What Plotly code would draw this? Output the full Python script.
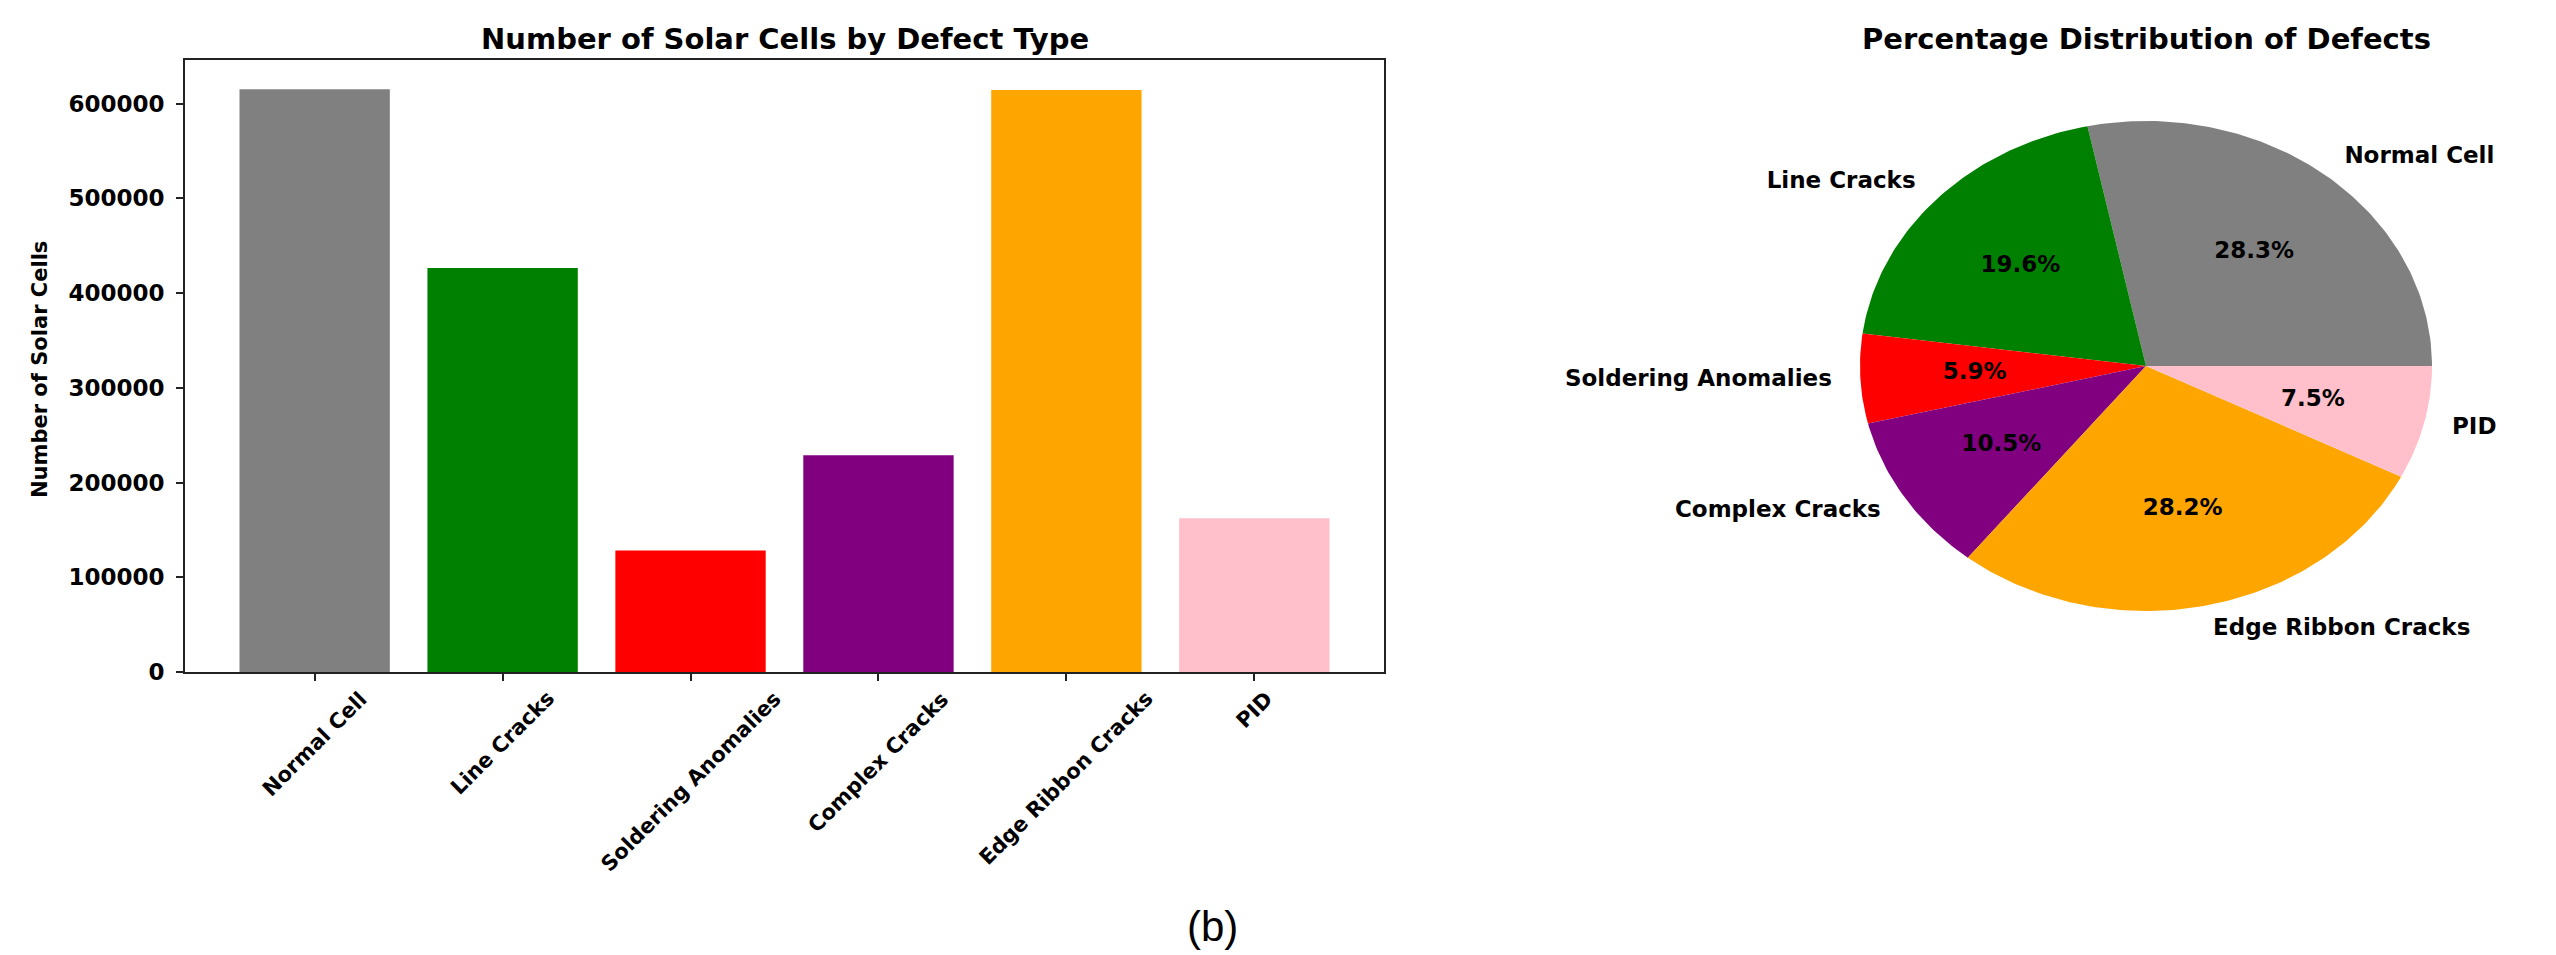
import numpy as np
import plotly.graph_objects as go

# ---- data ----
categories = ["Normal Cell", "Line Cracks", "Soldering Anomalies",
              "Complex Cracks", "Edge Ribbon Cracks", "PID"]
cell_counts = [615200, 426400, 128300, 228800, 614400, 162300]
bar_colors = ["#808080", "#008000", "#ff0000", "#800080", "#ffa500", "#ffc0cb"]
y_tick_values = [0, 100000, 200000, 300000, 400000, 500000, 600000]

# ---- page geometry (pixels) ----
W, H = 2556, 955
H_LAYOUT = 942          # vertical span used to place elements on the page
BAR_L, BAR_R, BAR_T, BAR_B = 185, 1384, 60, 672
PIE_CX, PIE_CY, PIE_RX, PIE_RY = 2146, 366, 286, 245
PIE_XR = (-1.5, 1.4)
PIE_YR = (-1.4, 1.4)

FONT = "DejaVu Sans"
AX_COLOR = "#222222"
LABEL_SIZE = 23
ROT_LABEL_SIZE = 21
TITLE_SIZE = 29


def fx(px):
    return px / W


def fy(py):
    return 1 - py / H_LAYOUT


fig = go.Figure()

# ---- bar chart ----
x_pos = list(range(len(categories)))
fig.add_trace(go.Bar(
    x=x_pos, y=cell_counts, width=0.8,
    marker=dict(color=bar_colors, line=dict(width=0)),
    xaxis="x", yaxis="y", hoverinfo="skip", showlegend=False,
))

# rotated category labels, centred under each tick
for i, name in enumerate(categories):
    fig.add_annotation(
        x=i, y=fy(BAR_B + 12), xref="x", yref="paper",
        text=name, textangle=-45, showarrow=False,
        xanchor="center", yanchor="top",
        font=dict(family=FONT, size=ROT_LABEL_SIZE, color="black", weight="bold"),
    )

# ---- pie chart drawn as filled wedges ----
counts = np.array(cell_counts, dtype=float)
fracs = counts / counts.sum()
edges = np.concatenate([[0.0], np.cumsum(fracs)]) * 2 * np.pi

for i, name in enumerate(categories):
    a0, a1 = edges[i], edges[i + 1]
    t = np.linspace(a0, a1, max(3, int((a1 - a0) / (2 * np.pi) * 400)))
    xs = np.concatenate([[0.0], np.cos(t), [0.0]])
    ys = np.concatenate([[0.0], np.sin(t), [0.0]])
    fig.add_trace(go.Scatter(
        x=xs, y=ys, mode="lines", fill="toself",
        fillcolor=bar_colors[i], line=dict(width=0, color=bar_colors[i]),
        xaxis="x2", yaxis="y2", hoverinfo="skip", showlegend=False,
    ))

mid = (edges[:-1] + edges[1:]) / 2
lab_x = 1.1 * np.cos(mid)
lab_y = 1.1 * np.sin(mid)
for i, name in enumerate(categories):
    fig.add_trace(go.Scatter(
        x=[lab_x[i]], y=[lab_y[i]], mode="text", text=[name],
        textposition="middle right" if lab_x[i] > 0 else "middle left",
        textfont=dict(family=FONT, size=LABEL_SIZE, color="black", weight="bold"),
        xaxis="x2", yaxis="y2", hoverinfo="skip", showlegend=False,
        cliponaxis=False,
    ))

pct_text = [f"{f * 100:.1f}%" for f in fracs]
fig.add_trace(go.Scatter(
    x=0.6 * np.cos(mid), y=0.6 * np.sin(mid), mode="text", text=pct_text,
    textposition="middle center",
    textfont=dict(family=FONT, size=LABEL_SIZE, color="black", weight="bold"),
    xaxis="x2", yaxis="y2", hoverinfo="skip", showlegend=False,
    cliponaxis=False,
))

# ---- titles and captions ----
title_font = dict(family=FONT, size=TITLE_SIZE, color="black", weight="bold")
fig.add_annotation(x=fx((BAR_L + BAR_R) / 2), y=fy(39), xref="paper", yref="paper",
                   text="Number of Solar Cells by Defect Type", showarrow=False,
                   xanchor="center", yanchor="middle", font=title_font)
fig.add_annotation(x=fx(PIE_CX), y=fy(39), xref="paper", yref="paper",
                   text="Percentage Distribution of Defects", showarrow=False,
                   xanchor="center", yanchor="middle", font=title_font)
fig.add_annotation(x=fx(40), y=fy(370), xref="paper", yref="paper",
                   text="Number of Solar Cells", textangle=-90, showarrow=False,
                   xanchor="center", yanchor="middle",
                   font=dict(family=FONT, size=21, color="black", weight="bold"))
fig.add_annotation(x=fx(1212), y=fy(926), xref="paper", yref="paper",
                   text="(b)", showarrow=False, xanchor="center", yanchor="middle",
                   font=dict(family="Liberation Sans", size=42, color="black"))

y_max = max(cell_counts) * 1.05
fig.update_layout(
    width=W, height=H,
    margin=dict(l=0, r=0, t=0, b=0),
    paper_bgcolor="white", plot_bgcolor="white",
    showlegend=False,
    xaxis=dict(
        domain=[fx(BAR_L), fx(BAR_R)], range=[-0.69, len(categories) - 0.31],
        tickmode="array", tickvals=x_pos, showticklabels=False,
        ticks="outside", ticklen=7, tickwidth=1.6, tickcolor=AX_COLOR,
        showline=True, linecolor=AX_COLOR, linewidth=1.6, mirror=True,
        showgrid=False, zeroline=False, fixedrange=True,
    ),
    yaxis=dict(
        domain=[fy(BAR_B), fy(BAR_T)], range=[0, y_max],
        tickmode="array", tickvals=y_tick_values,
        ticktext=[str(v) for v in y_tick_values],
        ticks="outside", ticklen=7, tickwidth=1.6, tickcolor=AX_COLOR,
        ticklabelstandoff=7,
        tickfont=dict(family=FONT, size=LABEL_SIZE, color="black", weight="bold"),
        showline=True, linecolor=AX_COLOR, linewidth=1.6, mirror=True,
        showgrid=False, zeroline=False, fixedrange=True,
    ),
    xaxis2=dict(
        domain=[fx(PIE_CX + PIE_XR[0] * PIE_RX), fx(PIE_CX + PIE_XR[1] * PIE_RX)],
        range=list(PIE_XR), visible=False, fixedrange=True,
    ),
    yaxis2=dict(
        domain=[fy(PIE_CY - PIE_YR[0] * PIE_RY), fy(PIE_CY - PIE_YR[1] * PIE_RY)],
        range=list(PIE_YR), visible=False, fixedrange=True, anchor="x2",
    ),
)

# keep the page exactly the size of the figure (no body margin or scrollbars)
page_css = ("document.documentElement.style.margin='0';"
            "document.documentElement.style.padding='0';"
            "document.documentElement.style.overflow='hidden';"
            "document.body.style.margin='0';"
            "document.body.style.padding='0';"
            "document.body.style.overflow='hidden';")

fig.write_html("out.html", post_script=page_css,
               config={"displayModeBar": False})
